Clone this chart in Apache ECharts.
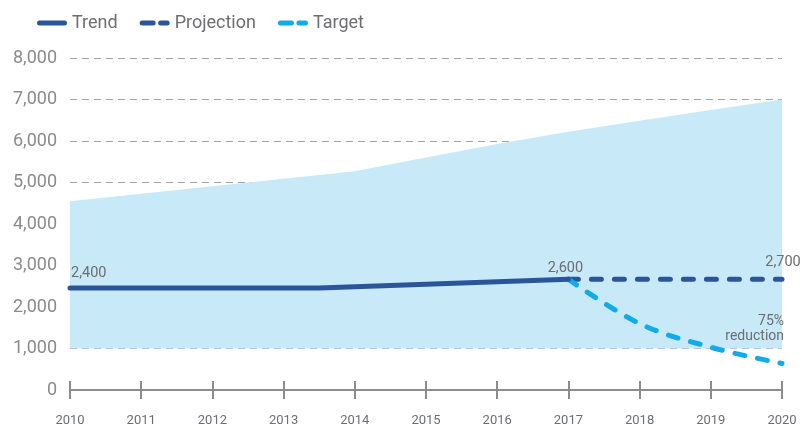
<!DOCTYPE html>
<html>
<head>
<meta charset="utf-8">
<script src="https://cdn.jsdelivr.net/npm/echarts@6/dist/echarts.min.js"></script>
<style>
  html, body { margin: 0; padding: 0; background: #fff; }
  #chart { width: 802px; height: 424px; }
</style>
</head>
<body>
<div id="chart"></div>
<script>
// data
const years = [2010, 2011, 2012, 2013, 2014, 2015, 2016, 2017, 2018, 2019, 2020]
const rangeTop = [4550, 4730, 4910, 5090, 5270, 5600, 5930, 6220, 6490, 6750, 7000]
const rangeBase = 1000

const trendYears = [2010, 2013.5, 2017]
const trendValues = [2460, 2460, 2670]

const projectionYears = [2017, 2020]
const projectionValues = [2670, 2670]

const targetYears = [2017, 2018, 2019, 2020]
const targetValues = [2670, 1600, 1030, 640]

const yTicks = [0, 1000, 2000, 3000, 4000, 5000, 6000, 7000, 8000]

const darkBlue = '#2a5599'
const cyan = '#10abe8'
const grey = '#6d6e71'
const font = 'Roboto'

const pairs = (xs, ys) => xs.map((x, i) => [x, ys[i]])

// rounded bar pieces for the legend icons (30 x 5 box)
function capsule(x0, x1) {
  const r = 2.5
  return `M${x0 + r},0 H${x1 - r} A${r},${r} 0 0 1 ${x1 - r},5 H${x0 + r} A${r},${r} 0 0 1 ${x0 + r},0 Z`
}
const solidIcon = 'path://' + capsule(0, 30)
const dashIcon = 'path://' + capsule(0, 16) + ' ' + capsule(18.5, 30)

const chart = echarts.init(document.getElementById('chart'))

const dashed = { width: 5, type: [10, 13], cap: 'round' }

const xBase = {
  type: 'value',
  min: years[0],
  max: years[years.length - 1],
  interval: 1,
  position: 'bottom',
  axisLine: { show: true, lineStyle: { color: '#8c8c8c', width: 2 } },
  splitLine: { show: false },
}

chart.setOption({
  animation: false,
  textStyle: { fontFamily: font },
  grid: { left: 70, right: 20, top: 58, bottom: 34, outerBoundsMode: 'none' },
  legend: {
    data: [
      { name: 'Trend', icon: solidIcon },
      { name: 'Projection', icon: dashIcon },
      { name: 'Target', icon: dashIcon },
    ],
    left: 32,
    top: 9,
    itemWidth: 30,
    itemHeight: 5,
    itemGap: 22,
    itemStyle: { borderWidth: 0 },
    textStyle: { color: grey, fontSize: 18, fontFamily: font },
  },
  xAxis: [
    {
      ...xBase,
      axisTick: { show: true, inside: false, length: 9, lineStyle: { color: '#8c8c8c', width: 2 } },
      axisLabel: {
        color: grey,
        fontSize: 13,
        margin: 24,
        formatter: (v) => String(v),
      },
    },
    {
      ...xBase,
      axisTick: { show: true, inside: true, length: 9, lineStyle: { color: '#8c8c8c', width: 2 } },
      axisLabel: { show: false },
    },
  ],
  yAxis: {
    type: 'value',
    min: yTicks[0],
    max: yTicks[yTicks.length - 1],
    interval: 1000,
    axisLine: { show: false },
    axisTick: { show: false },
    axisLabel: {
      color: '#8b8b8b',
      fontSize: 18,
      margin: 13,
      formatter: (v) => v.toLocaleString('en-US'),
    },
    splitLine: { lineStyle: { color: '#a3a3a3', width: 1, type: [7, 5] } },
  },
  series: [
    {
      name: 'Range',
      type: 'line',
      data: pairs(years, rangeTop),
      symbol: 'none',
      lineStyle: { width: 0 },
      areaStyle: { color: '#c7e9f8', opacity: 1, origin: rangeBase },
      z: 1,
    },
    {
      name: 'Projection',
      type: 'line',
      data: pairs(projectionYears, projectionValues),
      symbol: 'none',
      color: darkBlue,
      lineStyle: { ...dashed, color: darkBlue },
      markPoint: {
        symbol: 'circle',
        symbolSize: 0,
        label: { show: true, color: grey, fontSize: 14.5, formatter: '{b}', position: [1, -17], align: 'center', verticalAlign: 'middle' },
        data: [{ name: '2,700', coord: [2020, 2670] }],
      },
      z: 3,
    },
    {
      name: 'Target',
      type: 'line',
      data: pairs(targetYears, targetValues),
      symbol: 'none',
      smooth: 0.35,
      color: cyan,
      lineStyle: { ...dashed, color: cyan },
      markPoint: {
        symbol: 'circle',
        symbolSize: 0,
        label: {
          show: true, color: grey, fontSize: 14, lineHeight: 15,
          formatter: '{b}', position: [2, 0], align: 'right', verticalAlign: 'middle',
        },
        data: [{ name: '75%\nreduction', coord: [2020, 1480] }],
      },
      z: 4,
    },
    {
      name: 'Trend',
      type: 'line',
      data: pairs(trendYears, trendValues),
      symbol: 'none',
      color: darkBlue,
      lineStyle: { width: 5, color: darkBlue, cap: 'round' },
      markPoint: {
        symbol: 'circle',
        symbolSize: 0,
        label: { show: true, color: grey, fontSize: 14.5, formatter: '{b}' },
        data: [
          { name: '2,400', coord: [2010, 2460], label: { position: [1, -15], align: 'left', verticalAlign: 'middle' } },
          { name: '2,600', coord: [2017, 2670], label: { position: [-3, -11], align: 'center', verticalAlign: 'middle' } },
        ],
      },
      z: 5,
    },
  ],
})
</script>
</body>
</html>
